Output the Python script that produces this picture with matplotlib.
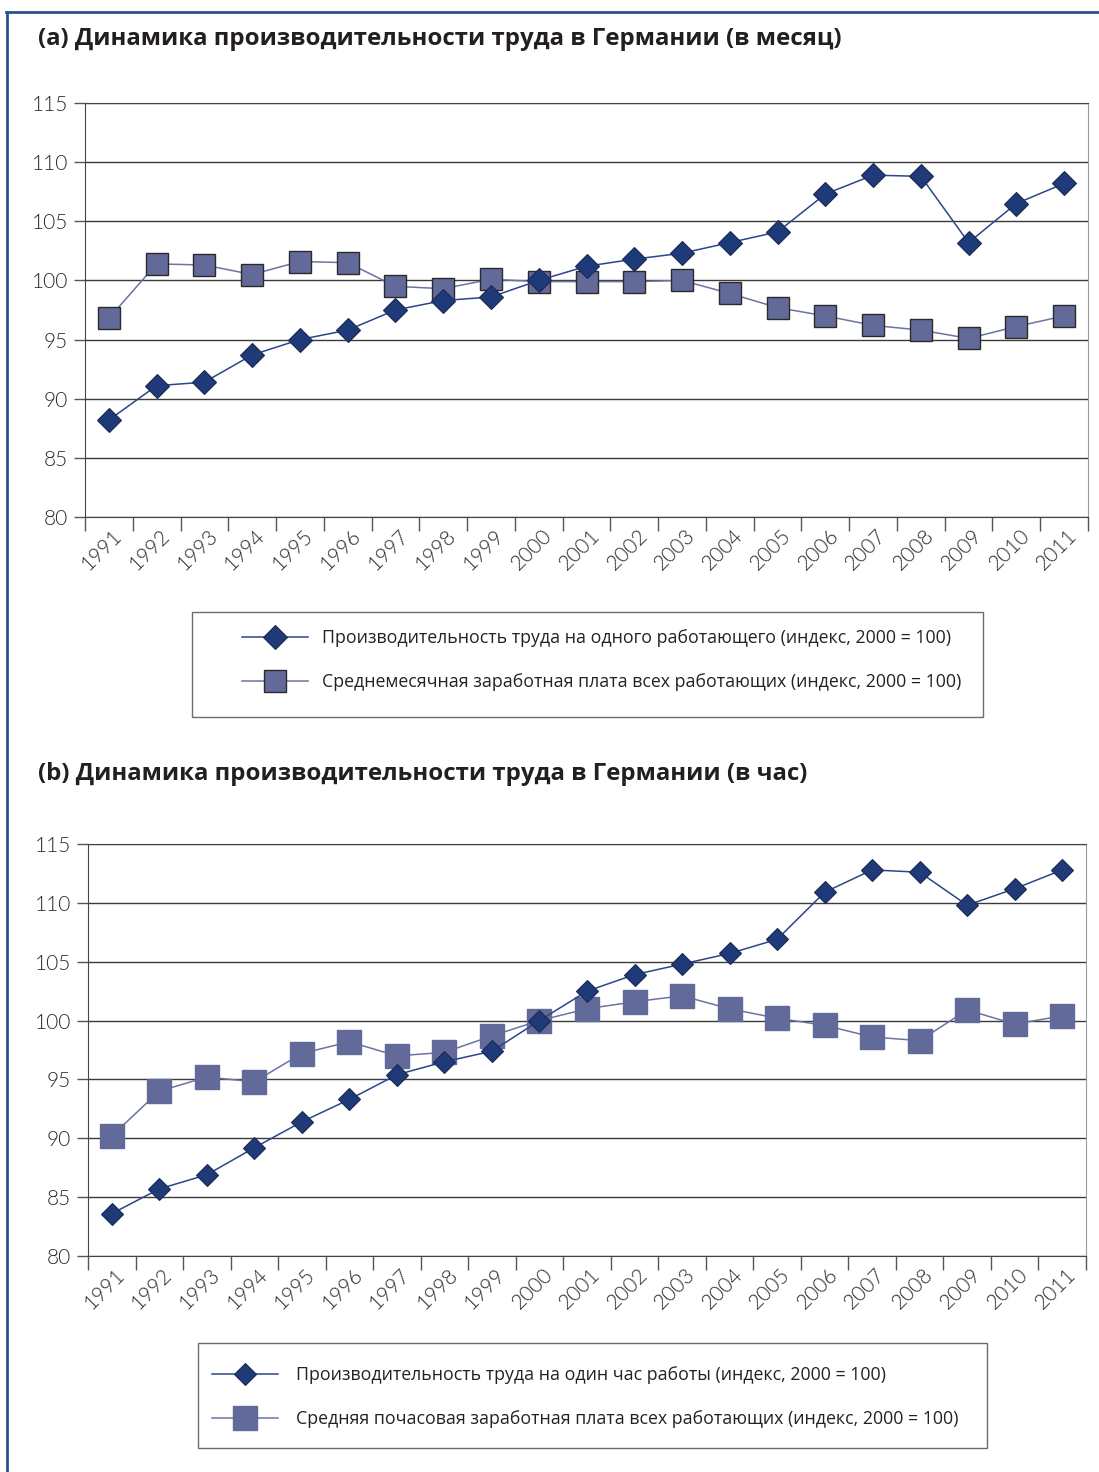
import matplotlib
matplotlib.use("Agg")
import matplotlib.pyplot as plt
from matplotlib.lines import Line2D
from matplotlib.patches import Rectangle
from matplotlib.transforms import ScaledTranslation

years = [str(y) for y in range(1991, 2012)]

# (a) per month
productivity_month = [88.2, 91.1, 91.4, 93.7, 95.0, 95.8, 97.5, 98.3, 98.6, 100.0, 101.2,
                      101.8, 102.3, 103.2, 104.1, 107.3, 108.9, 108.8, 103.2, 106.5, 108.2]
wage_month = [96.8, 101.4, 101.3, 100.5, 101.6, 101.5, 99.5, 99.3, 100.1, 99.9, 99.9,
              99.9, 100.0, 98.9, 97.7, 97.0, 96.2, 95.8, 95.1, 96.1, 97.0]

# (b) per hour
productivity_hour = [83.6, 85.7, 86.9, 89.2, 91.4, 93.3, 95.4, 96.5, 97.4, 100.0, 102.5,
                     103.9, 104.8, 105.7, 106.9, 110.9, 112.8, 112.6, 109.8, 111.2, 112.8]
wage_hour = [90.2, 94.0, 95.2, 94.8, 97.2, 98.2, 97.0, 97.3, 98.7, 100.0, 101.0,
             101.6, 102.1, 101.0, 100.2, 99.6, 98.6, 98.3, 100.9, 99.7, 100.4]

labels_a = ["Производительность труда на одного работающего (индекс, 2000 = 100)",
            "Среднемесячная заработная плата всех работающих (индекс, 2000 = 100)"]
labels_b = ["Производительность труда на один час работы (индекс, 2000 = 100)",
            "Средняя почасовая заработная плата всех работающих (индекс, 2000 = 100)"]
title_a = "(a) Динамика производительности труда в Германии (в месяц)"
title_b = "(b) Динамика производительности труда в Германии (в час)"

DIAMOND = "#1f3a78"
SQUARE = "#626a9a"
W, H = 1099, 1472


def fx(px):
    return px / W


def fy(py):
    return 1 - py / H


def draw_panel(fig, rect, prod, wage, square_edge, dsize, ssize):
    ax = fig.add_axes(rect)
    xs = [i + 0.5 for i in range(len(years))]
    ax.plot(xs, wage, color="#6b73a6", lw=1.1, marker="s", ms=ssize,
            mfc=SQUARE, mec=square_edge, mew=1.0, zorder=3)
    ax.plot(xs, prod, color="#2b4588", lw=1.1, marker="D", ms=dsize,
            mfc=DIAMOND, mec="#1c2a50", mew=0.8, zorder=4)

    ax.set_xlim(0, len(years))
    ax.set_ylim(80, 115)
    ax.set_yticks(range(80, 116, 5))
    ax.set_yticklabels([str(v) for v in range(80, 116, 5)])
    ax.yaxis.grid(True, color="#3a3a3a", lw=1.0)
    ax.set_axisbelow(True)

    ax.set_xticks(xs)
    ax.set_xticklabels(years, rotation=45, ha="center", va="top")
    ax.set_xticks(range(len(years) + 1), minor=True)
    ax.tick_params(axis="x", which="major", length=0, pad=6)
    ax.tick_params(axis="x", which="minor", length=10, width=1, color="#555555")
    ax.tick_params(axis="y", length=8, width=1, color="#555555", pad=4)
    for lab in ax.get_xticklabels():
        lab.set_transform(lab.get_transform() + ScaledTranslation(-0.07, 0, fig.dpi_scale_trans))
    for lab in ax.get_xticklabels() + ax.get_yticklabels():
        lab.set_fontfamily(["Lato", "DejaVu Sans"])
        lab.set_fontweight(300)
        lab.set_fontsize(15)
        lab.set_color("#2a2a2a")

    ax.spines["left"].set_color("#444444")
    ax.spines["bottom"].set_color("#444444")
    ax.spines["top"].set_color("#444444")
    ax.spines["right"].set_color("#999999")
    return ax


def draw_legend(fig, box, labels, handle_x, text_y, square_edge, dsize, ssize, textpad):
    x0, y0, x1, y1 = box
    fig.add_artist(Rectangle((fx(x0), fy(y1)), fx(x1 - x0), (y1 - y0) / H,
                             transform=fig.transFigure, fill=False,
                             ec="#6d6d6d", lw=1.0))
    handles = [
        Line2D([], [], color="#2b4588", lw=1.1, marker="D", ms=dsize,
               mfc=DIAMOND, mec="#1c2a50", mew=0.8),
        Line2D([], [], color="#6b73a6", lw=1.1, marker="s", ms=ssize,
               mfc=SQUARE, mec=square_edge, mew=1.0),
    ]
    fig.legend(handles, labels, loc="upper left",
               bbox_to_anchor=(fx(handle_x), fy(text_y)),
               frameon=False, borderpad=0, borderaxespad=0,
               handlelength=3.7, handletextpad=textpad, labelspacing=1.45,
               prop={"family": ["Open Sans", "DejaVu Sans"], "size": 12.8},
               labelcolor="#222222")


fig = plt.figure(figsize=(W / 100, H / 100), dpi=100)

# blue page frame
fig.add_artist(Line2D([fx(6), 1], [fy(11.5), fy(11.5)], transform=fig.transFigure,
                      color="#2e4f8f", lw=2.0))
fig.add_artist(Line2D([fx(7), fx(7)], [fy(11.5), 0], transform=fig.transFigure,
                      color="#2e4f8f", lw=2.0))

title_font = {"family": ["Open Sans", "DejaVu Sans"], "weight": "bold", "size": 17.3,
              "color": "#231f20"}
fig.text(fx(38), fy(39), title_a, va="center", ha="left", **title_font)
fig.text(fx(38), fy(774), title_b, va="center", ha="left", **title_font)

draw_panel(fig, [fx(85), fy(517), fx(1088 - 85), (517 - 103) / H],
           productivity_month, wage_month, "#2a2a2a", 12, 16.5)
draw_legend(fig, (192, 612, 983, 717), labels_a, 242, 629, "#2a2a2a", 12, 16.5, 0.8)

draw_panel(fig, [fx(88), fy(1256), fx(1086 - 88), (1256 - 844) / H],
           productivity_hour, wage_hour, SQUARE, 11, 17)
draw_legend(fig, (198, 1343, 987, 1448), labels_b, 212, 1366, SQUARE, 11, 17, 1.05)

fig.savefig("out.png", dpi=100, facecolor="white")
